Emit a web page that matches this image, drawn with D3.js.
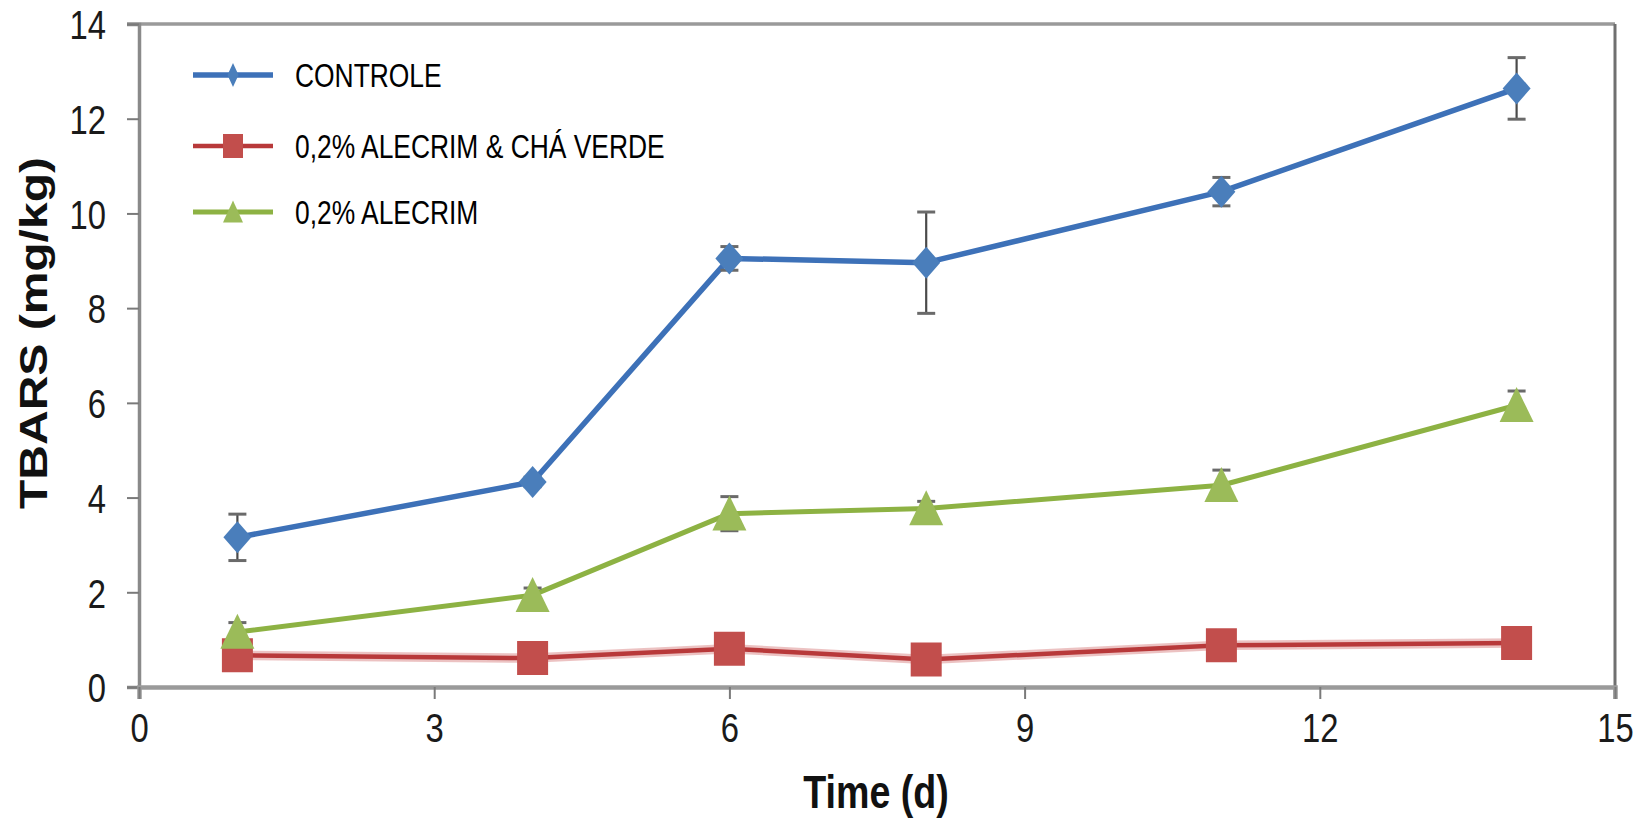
<!DOCTYPE html>
<html>
<head>
<meta charset="utf-8">
<script src="https://cdn.jsdelivr.net/npm/d3@7"></script>
<style>
  html, body { margin: 0; padding: 0; background: #fff; }
  svg { display: block; }
  text { font-family: "Liberation Sans", Arial, sans-serif; }
</style>
</head>
<body>
<svg id="chart" width="1646" height="819"></svg>
<script>
// Sampling days and TBARS means (mg/kg) with their error-bar half widths
const days = [1, 4, 6, 8, 11, 14];
const controle = [3.16, 4.33, 9.05, 8.96, 10.46, 12.64];
const controleErr = [0.49, 0.1, 0.25, 1.07, 0.3, 0.65];
const alecrimCha = [0.67, 0.61, 0.81, 0.58, 0.88, 0.93];
const alecrimChaErr = [0.05, 0.05, 0.05, 0.05, 0.05, 0.05];
const alecrim = [1.16, 1.94, 3.66, 3.77, 4.26, 5.95];
const alecrimErr = [0.2, 0.15, 0.36, 0.15, 0.32, 0.3];

const seriesNames = ["CONTROLE", "0,2% ALECRIM & CHÁ VERDE", "0,2% ALECRIM"];
const xTicks = [0, 3, 6, 9, 12, 15];
const yTicks = [0, 2, 4, 6, 8, 10, 12, 14];
const xTitle = "Time (d)";
const yTitle = "TBARS (mg/kg)";

const series = [
  { name: seriesNames[0], values: controle, err: controleErr, marker: "diamond",
    line: "#3d71b8", fill: "#4a7ebb", width: 5.5 },
  { name: seriesNames[1], values: alecrimCha, err: alecrimChaErr, marker: "square",
    line: "#b8393a", fill: "#c24e4c", width: 4.5, halo: "rgba(200,80,80,0.35)" },
  { name: seriesNames[2], values: alecrim, err: alecrimErr, marker: "triangle",
    line: "#8db243", fill: "#9bbb59", width: 5 }
];

const svg = d3.select("#chart");
const plotLeft = 139, plotRight = 1615, plotTop = 24, plotBottom = 687;
const x = d3.scaleLinear().domain([0, 15]).range([plotLeft, plotRight]);
const y = d3.scaleLinear().domain([0, 14]).range([plotBottom, plotTop]);
const SQ = 0.8; // horizontal condensing applied to text

// marker outlines, w/h are full width/height
function markerPath(type, w, h) {
  const p = d3.path();
  if (type === "diamond") {
    p.moveTo(0, -h / 2); p.lineTo(w / 2, 0); p.lineTo(0, h / 2); p.lineTo(-w / 2, 0);
  } else if (type === "square") {
    p.rect(-w / 2, -h / 2, w, h);
  } else {
    p.moveTo(0, -h * 0.52); p.lineTo(w / 2, h * 0.48); p.lineTo(-w / 2, h * 0.48);
  }
  p.closePath();
  return p.toString();
}
const markerSize = { diamond: [28, 32], square: [31, 34], triangle: [34, 35] };

// plot frame: top and right edges
svg.append("line").attr("x1", plotLeft - 12).attr("x2", plotRight).attr("y1", plotTop).attr("y2", plotTop)
  .attr("stroke", "#9a9a9a").attr("stroke-width", 3.5);
svg.append("line").attr("x1", plotRight).attr("x2", plotRight).attr("y1", plotTop).attr("y2", plotBottom + 12)
  .attr("stroke", "#707070").attr("stroke-width", 3);

// y axis
const yAxis = svg.append("g").attr("transform", `translate(${plotLeft},0)`)
  .call(d3.axisLeft(y).tickValues(yTicks).tickSize(12).tickFormat(d3.format("d")));
yAxis.select(".domain").attr("stroke", "#8a8a8a").attr("stroke-width", 3.5);
yAxis.selectAll(".tick line").attr("stroke", "#7a7a7a").attr("stroke-width", 2);
yAxis.selectAll(".tick text")
  .attr("font-family", "Liberation Sans, Arial, sans-serif")
  .attr("font-size", 41).attr("fill", "#1a1a1a")
  .attr("x", -33 / SQ).attr("dy", "0.36em")
  .attr("transform", `scale(${SQ},1)`);

// x axis
const xAxis = svg.append("g").attr("transform", `translate(0,${plotBottom})`)
  .call(d3.axisBottom(x).tickValues(xTicks).tickSize(12).tickFormat(d3.format("d")));
xAxis.select(".domain").attr("stroke", "#9a9a9a").attr("stroke-width", 4.5);
xAxis.selectAll(".tick line").attr("stroke", "#7a7a7a").attr("stroke-width", 2);
xAxis.selectAll(".tick text")
  .attr("font-family", "Liberation Sans, Arial, sans-serif")
  .attr("font-size", 41).attr("fill", "#1a1a1a")
  .attr("y", 55).attr("dy", 0)
  .attr("transform", `scale(${SQ},1)`);

// axis titles
svg.append("text")
  .attr("transform", `translate(876,808) scale(${SQ},1)`)
  .attr("text-anchor", "middle").attr("font-size", 47).attr("font-weight", "bold")
  .attr("fill", "#111").text(xTitle);
svg.append("text")
  .attr("transform", `translate(47,333) scale(${SQ},1) rotate(-90)`)
  .attr("text-anchor", "middle").attr("font-size", 48).attr("font-weight", "bold")
  .attr("fill", "#111").text(yTitle);

const line = d3.line().x((d, i) => x(days[i])).y(d => y(d));
const plot = svg.append("g");

// lines
series.forEach(s => {
  if (s.halo) {
    plot.append("path").attr("d", line(s.values)).attr("fill", "none")
      .attr("stroke", s.halo).attr("stroke-width", s.width + 5).attr("stroke-linejoin", "round");
  }
  plot.append("path").attr("d", line(s.values)).attr("fill", "none")
    .attr("stroke", s.line).attr("stroke-width", s.width).attr("stroke-linejoin", "round");
});

// error bars
series.forEach(s => {
  const g = plot.append("g").attr("stroke", "#4a4a4a");
  s.values.forEach((v, i) => {
    const cx = x(days[i]), y1 = y(v + s.err[i]), y2 = y(v - s.err[i]);
    g.append("line").attr("x1", cx).attr("x2", cx).attr("y1", y1).attr("y2", y2).attr("stroke-width", 2.2);
    [y1, y2].forEach(yy => g.append("line").attr("x1", cx - 9).attr("x2", cx + 9)
      .attr("y1", yy).attr("y2", yy).attr("stroke-width", 3).attr("stroke", "#6a6a6a"));
  });
});

// markers
series.forEach(s => {
  const [w, h] = markerSize[s.marker];
  plot.append("g").selectAll("path").data(s.values).join("path")
    .attr("transform", (d, i) => `translate(${x(days[i])},${y(d)})`)
    .attr("d", markerPath(s.marker, w, h))
    .attr("fill", s.fill);
});

// legend
const legendRows = [75, 146, 212];
const legendMarker = { diamond: [11, 24], square: [20, 24], triangle: [20, 22] };
series.forEach((s, i) => {
  const g = svg.append("g").attr("transform", `translate(0,${legendRows[i]})`);
  g.append("line").attr("x1", 193).attr("x2", 273).attr("y1", 0).attr("y2", 0)
    .attr("stroke", s.line).attr("stroke-width", s.width);
  const [w, h] = legendMarker[s.marker];
  g.append("path").attr("transform", "translate(233,0)")
    .attr("d", markerPath(s.marker, w, h)).attr("fill", s.fill);
  g.append("text").attr("transform", `translate(295,0) scale(${SQ},1)`)
    .attr("dy", "0.36em").attr("font-size", 33).attr("fill", "#000").text(s.name);
});
</script>
</body>
</html>
